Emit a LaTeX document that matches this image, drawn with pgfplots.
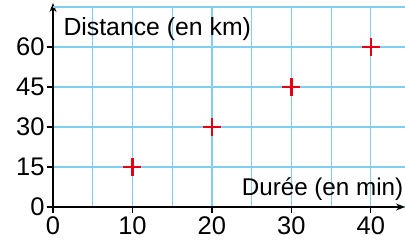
\documentclass[border=0pt]{standalone}
\usepackage{fontspec}
\setmainfont{Liberation Sans}
\usepackage{pgfplots}
\pgfplotsset{compat=1.18}
\usetikzlibrary{arrows.meta}
\definecolor{gridblue}{RGB}{130,205,242}
\definecolor{crossred}{RGB}{228,0,18}
\begin{document}
\begin{tikzpicture}
\useasboundingbox (-53bp,-40bp) rectangle (352bp,207bp);
\begin{axis}[
 anchor=origin, at={(0,0)},
 scale only axis, width=352bp, height=200bp,
 xmin=0, xmax=44.3, ymin=0, ymax=75,
 axis lines=left,
 axis line style={line width=1.4bp, black, -{Stealth[length=9bp,width=7bp]}},
 y axis line style={shorten >=-4bp},
 xtick={0,10,20,30,40}, ytick={0,15,30,45,60},
 minor xtick={5,15,25,35},
 extra y ticks={75}, extra y tick labels={},
 extra y tick style={major tick length=0pt},
 grid=both,
 major grid style={gridblue, line width=1.2bp},
 minor grid style={gridblue, line width=1.2bp},
 minor tick length=0pt,
 major tick length=6bp,
 tick align=outside,
 tick style={black, line width=1.2bp},
 /pgf/number format/assume math mode=true,
 tick label style={font=\fontsize{25.5bp}{29bp}\selectfont},
 yticklabel style={xshift=1bp},
 clip=false,
]
\addplot[only marks, mark=+, mark size=9bp, line width=2.6bp, color=crossred]
 coordinates {(10,15) (20,30) (30,45) (40,60)};
\node[anchor=base west, inner sep=0pt, font=\fontsize{24.8bp}{29bp}\selectfont] at (axis cs:1.3,64.5) {Distance (en km)};
\node[anchor=base east, inner sep=0pt, font=\fontsize{24.2bp}{29bp}\selectfont] at (axis cs:44.1,4.5) {Durée (en min)};
\end{axis}
\end{tikzpicture}
\end{document}
